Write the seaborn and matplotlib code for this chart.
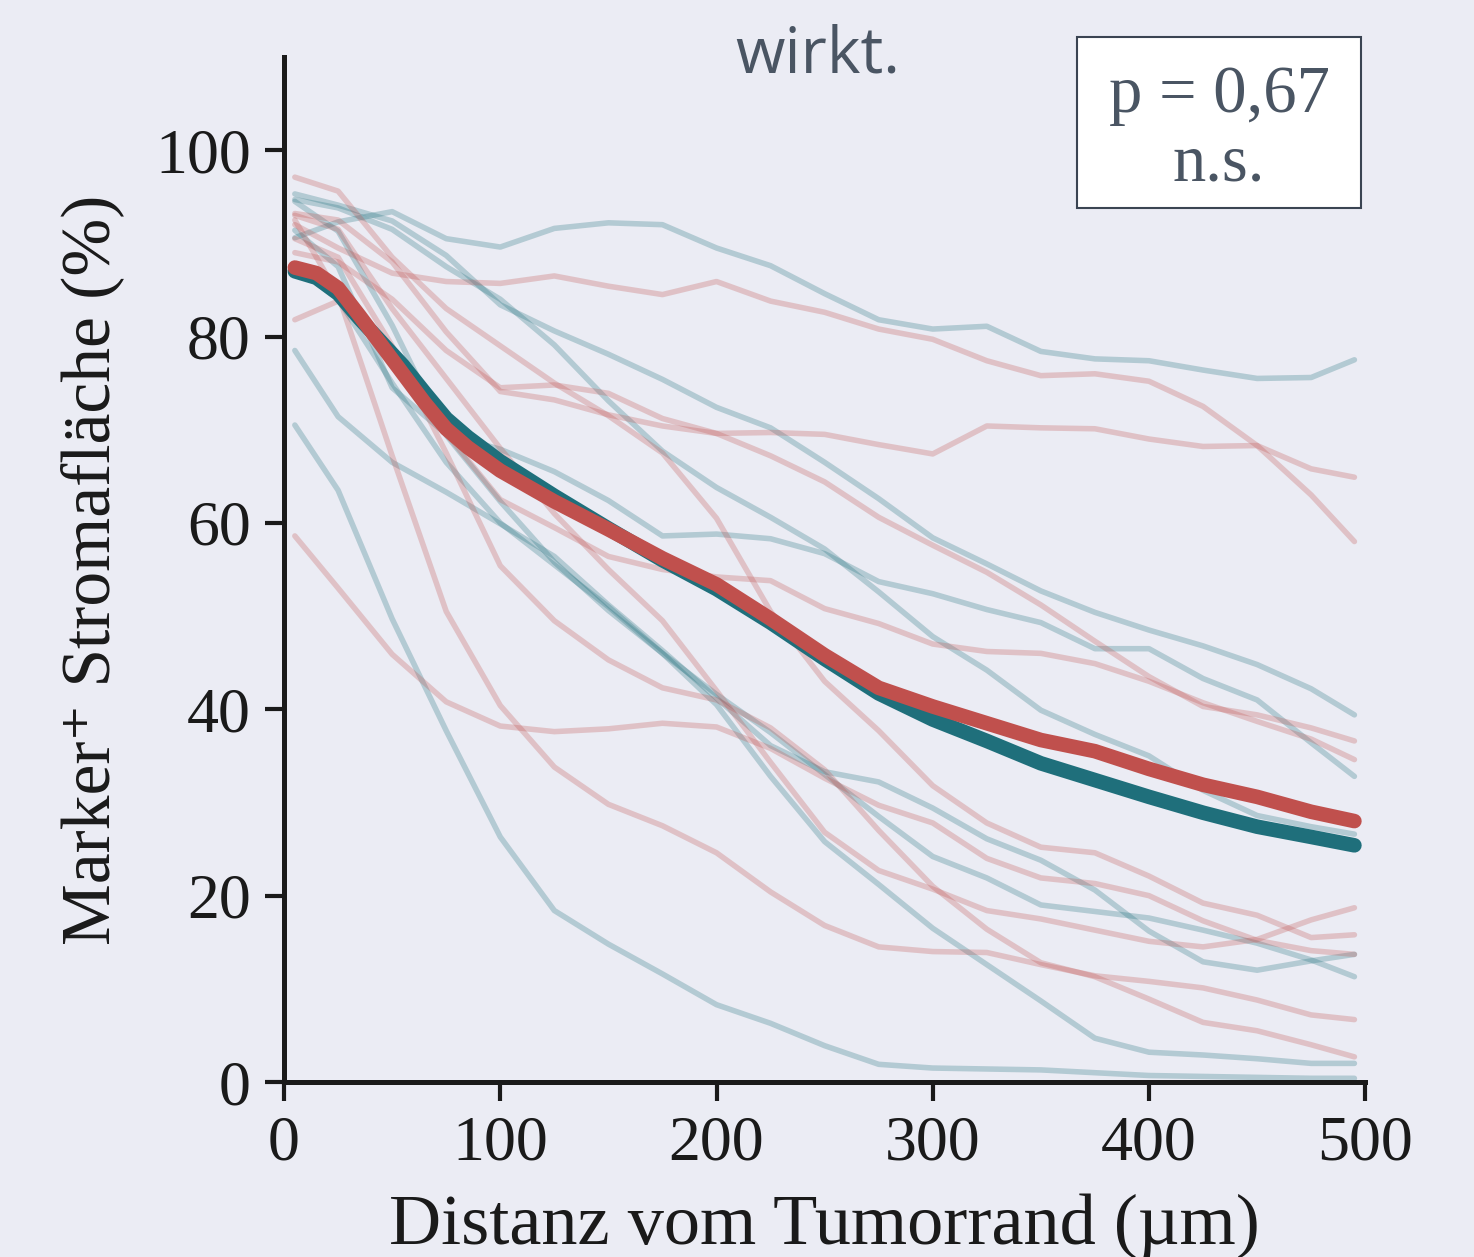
import numpy as np
import pandas as pd
import seaborn as sns
import matplotlib.pyplot as plt
from matplotlib.patches import Rectangle

# distance from tumour margin (um), sample points of the single profiles
distance = [5, 25, 50, 75, 100, 125, 150, 175, 200, 225, 250,
            275, 300, 325, 350, 375, 400, 425, 450, 475, 495]

# individual profiles, teal group
teal_1 = [90.6, 92.3, 93.4, 90.5, 89.6, 91.6, 92.2, 92.0, 89.5, 87.6, 84.6, 81.8, 80.8, 81.1, 78.4, 77.6, 77.4, 76.4, 75.5, 75.6, 77.5]
teal_2 = [95.3, 94.1, 92.4, 88.7, 83.4, 80.6, 78.1, 75.4, 72.4, 70.2, 66.5, 62.6, 58.4, 55.6, 52.7, 50.4, 48.5, 46.8, 44.8, 42.2, 39.4]
teal_3 = [91.4, 87.5, 74.5, 69.5, 67.9, 65.5, 62.4, 58.6, 58.8, 58.3, 56.7, 53.7, 52.4, 50.7, 49.3, 46.5, 46.5, 43.3, 41.0, 36.4, 32.8]
teal_4 = [94.7, 93.8, 91.5, 87.5, 84.0, 79.1, 73.1, 67.7, 63.8, 60.6, 57.2, 52.6, 47.8, 44.2, 39.9, 37.3, 35.0, 31.3, 28.6, 27.4, 26.6]
teal_5 = [78.5, 71.4, 66.5, 63.3, 59.9, 56.4, 51.2, 46.3, 41.2, 36.1, 33.3, 32.2, 29.4, 26.1, 23.8, 20.6, 16.2, 12.9, 12.0, 13.0, 13.7]
teal_6 = [94.5, 91.3, 81.2, 69.4, 62.3, 55.8, 50.6, 46.0, 41.6, 37.5, 33.0, 28.5, 24.2, 21.9, 19.0, 18.3, 17.6, 16.3, 14.9, 13.1, 11.3]
teal_7 = [87.5, 84.0, 75.0, 66.5, 60.0, 55.5, 51.0, 46.0, 40.5, 32.8, 25.8, 21.2, 16.5, 12.6, 8.7, 4.7, 3.2, 2.9, 2.5, 2.0, 2.0]
teal_8 = [70.5, 63.5, 49.7, 37.7, 26.3, 18.4, 14.8, 11.6, 8.3, 6.3, 3.9, 1.9, 1.5, 1.4, 1.3, 1.0, 0.7, 0.6, 0.5, 0.4, 0.4]

# individual profiles, red group
red_1 = [89.0, 88.0, 84.0, 78.5, 74.5, 74.8, 73.9, 71.2, 69.6, 69.7, 69.5, 68.4, 67.4, 70.4, 70.2, 70.1, 69.0, 68.2, 68.3, 65.8, 64.9]
red_2 = [92.0, 89.5, 86.8, 85.9, 85.7, 86.5, 85.4, 84.5, 85.9, 83.8, 82.6, 80.8, 79.7, 77.4, 75.8, 76.0, 75.2, 72.5, 68.3, 63.0, 58.0]
red_3 = [93.2, 92.5, 88.0, 80.5, 74.1, 73.2, 71.6, 70.4, 69.6, 67.2, 64.4, 60.6, 57.6, 54.7, 51.2, 47.3, 43.5, 40.3, 39.4, 38.0, 36.6]
red_4 = [81.8, 83.8, 78.4, 69.6, 62.5, 59.5, 56.4, 55.0, 54.2, 53.8, 50.8, 49.2, 47.0, 46.2, 46.0, 44.9, 43.0, 40.7, 38.7, 36.8, 34.6]
red_5 = [93.0, 91.5, 83.0, 75.5, 68.0, 61.0, 55.0, 49.5, 42.0, 34.3, 26.8, 22.7, 20.7, 18.4, 17.5, 16.3, 15.1, 14.5, 15.3, 17.4, 18.7]
red_6 = [97.1, 95.6, 88.5, 83.0, 79.0, 75.0, 71.5, 67.5, 60.5, 50.5, 43.0, 37.7, 31.8, 27.8, 25.2, 24.6, 22.1, 19.2, 17.9, 15.5, 15.8]
red_7 = [58.6, 53.0, 45.9, 40.8, 38.2, 37.6, 37.9, 38.5, 38.1, 35.8, 32.6, 29.7, 27.8, 24.0, 21.9, 21.3, 20.0, 17.3, 15.2, 14.1, 13.7]
red_8 = [92.5, 84.5, 67.2, 50.5, 40.4, 33.8, 29.8, 27.5, 24.6, 20.4, 16.8, 14.5, 14.0, 13.9, 12.6, 11.4, 10.8, 10.1, 8.8, 7.2, 6.7]
red_9 = [90.5, 88.5, 79.0, 67.5, 55.4, 49.5, 45.3, 42.3, 41.0, 38.0, 33.5, 27.0, 21.0, 16.4, 12.8, 11.3, 8.9, 6.4, 5.5, 4.0, 2.7]

# group means (thick lines), read more densely where they bend
mean_distance = [5, 15, 25, 35, 45, 55, 65, 75, 85, 100, 125, 150, 175, 200, 225,
                 250, 275, 300, 325, 350, 375, 400, 425, 450, 475, 495]
teal_mean = [87.0, 86.3, 84.6, 81.9, 79.4, 76.9, 74.0, 71.2, 69.2, 66.6, 62.9, 59.4, 56.0,
             52.9, 49.3, 45.4, 41.7, 38.9, 36.6, 34.2, 32.4, 30.6, 28.9, 27.4, 26.3, 25.4]
red_mean = [87.4, 86.8, 85.2, 82.2, 79.1, 76.0, 72.9, 70.1, 68.1, 65.6, 62.3, 59.3, 56.2,
            53.4, 49.7, 45.8, 42.3, 40.3, 38.5, 36.7, 35.5, 33.6, 31.9, 30.6, 29.0, 28.0]

x_ticks = [0, 100, 200, 300, 400, 500]
y_ticks = [0, 20, 40, 60, 80, 100]

TEAL = '#1F6F7B'
RED = '#C0504D'
BG = '#EBECF4'
INK = '#1A1A1A'
SLATE = '#4A5563'

teal_samples = [teal_1, teal_2, teal_3, teal_4, teal_5, teal_6, teal_7, teal_8]
red_samples = [red_1, red_2, red_3, red_4, red_5, red_6, red_7, red_8, red_9]

rows = []
for grp, samples in (('teal', teal_samples), ('red', red_samples)):
    for i, vals in enumerate(samples):
        for d, v in zip(distance, vals):
            rows.append({'dist': d, 'area': v, 'group': grp, 'sample': f'{grp}{i}'})
thin = pd.DataFrame(rows)

sns.set_theme(style='white', rc={'axes.facecolor': BG, 'figure.facecolor': BG})
plt.rcParams['font.family'] = ['Liberation Serif', 'DejaVu Serif']

fig = plt.figure(figsize=(14.74, 12.57), dpi=100)
ax = fig.add_axes([0.1927, 0.1392, 0.7335, 0.8155])

sns.lineplot(data=thin, x='dist', y='area', hue='group', units='sample', estimator=None,
             palette={'teal': TEAL, 'red': RED}, alpha=0.27, linewidth=4.0,
             solid_capstyle='round', legend=False, ax=ax)
sns.lineplot(x=mean_distance, y=teal_mean, color=TEAL, linewidth=10.5, solid_capstyle='round', ax=ax)
sns.lineplot(x=mean_distance, y=red_mean, color=RED, linewidth=10.5, solid_capstyle='round', ax=ax)

ax.set_xlim(0, 500)
ax.set_ylim(0, 110)
ax.set_xticks(x_ticks)
ax.set_yticks(y_ticks)
ax.tick_params(axis='both', bottom=True, left=True, labelsize=46, length=14, width=3,
               color=INK, labelcolor=INK, pad=10)
sns.despine(ax=ax)
for side in ('left', 'bottom'):
    ax.spines[side].set_linewidth(3.6)
    ax.spines[side].set_color(INK)

ax.set_xlabel('Distanz vom Tumorrand (µm)', fontsize=52, color=INK, labelpad=14)
ax.set_ylabel('Marker⁺ Stromafläche (%)', fontsize=50, color=INK, labelpad=22)

# last line of the (cut) title
fig.text(0.555, 0.9427, 'wirkt.', ha='center', va='baseline', fontsize=46,
         color=SLATE, family=['Open Sans', 'DejaVu Sans'])

# p-value box
fig.add_artist(Rectangle((0.7307, 0.8345), 0.1927, 0.136, transform=fig.transFigure,
                         facecolor='white', edgecolor='#3A4452', linewidth=1.5))
fig.text(0.827, 0.9109, 'p = 0,67', ha='center', va='baseline', fontsize=48, color=SLATE)
fig.text(0.827, 0.8568, 'n.s.', ha='center', va='baseline', fontsize=48, color=SLATE)

fig.savefig('out.png', dpi=100, facecolor=BG)
